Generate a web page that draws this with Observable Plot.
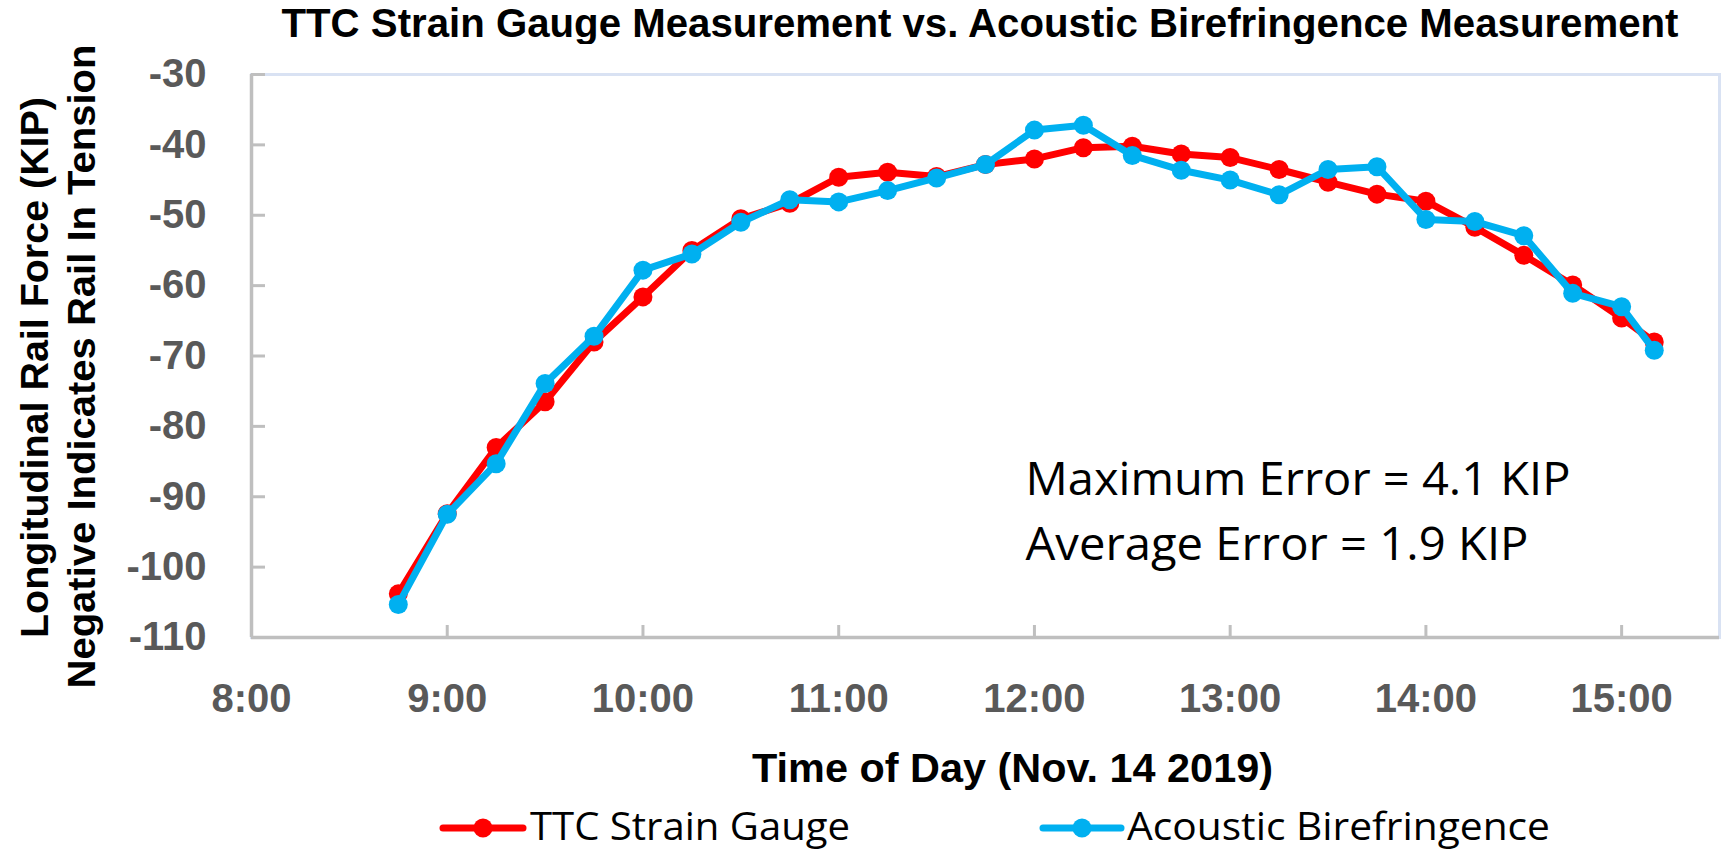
<!DOCTYPE html>
<html>
<head>
<meta charset="utf-8">
<script src="https://cdn.jsdelivr.net/npm/d3@7"></script>
<script src="https://cdn.jsdelivr.net/npm/@observablehq/plot@0.6"></script>
<style>
  html, body { margin: 0; padding: 0; background: #fff; }
  #wrap { position: relative; width: 1725px; height: 851px; overflow: hidden; background: #fff; }
  #title { position: absolute; left: 0; top: 0; overflow: visible; }
  #chart { position: absolute; left: 0; top: 44px; }
  #legend { position: absolute; left: 0; top: 794px; overflow: visible; }
</style>
</head>
<body>
<div id="wrap">
  <svg id="title" width="1725" height="44"></svg>
  <div id="chart"></div>
  <svg id="legend" width="1725" height="57"></svg>
</div>
<script>
// ---- data ----
const times = ["8:45","9:00","9:15","9:30","9:45","10:00","10:15","10:30","10:45","11:00","11:15","11:30","11:45",
               "12:00","12:15","12:30","12:45","13:00","13:15","13:30","13:45","14:00","14:15","14:30","14:45","15:00","15:10"];
const gaugeKip = [-103.8,-92.4,-83.0,-76.5,-68.0,-61.6,-55.0,-50.5,-48.3,-44.6,-43.9,-44.5,-42.8,
                  -42.0,-40.4,-40.2,-41.3,-41.8,-43.5,-45.3,-47.0,-48.0,-51.7,-55.7,-59.9,-64.6,-68.0];
const acousticKip = [-105.3,-92.5,-85.3,-73.9,-67.2,-57.8,-55.5,-51.0,-47.8,-48.1,-46.5,-44.7,-42.8,
                     -37.9,-37.2,-41.5,-43.6,-45.0,-47.1,-43.5,-43.1,-50.6,-50.9,-52.9,-61.1,-63.0,-69.2];
const seriesNames = ["TTC Strain Gauge", "Acoustic Birefringence"];
const seriesColors = ["#FF0000", "#00B0F0"];
const xTickHours = [8, 9, 10, 11, 12, 13, 14, 15];
const yTickValues = [-110, -100, -90, -80, -70, -60, -50, -40, -30];
const xDomain = [8, 15.5];
const yDomain = [-110, -30];
const chartTitle = "TTC Strain Gauge Measurement vs. Acoustic Birefringence Measurement";
const xTitle = "Time of Day (Nov. 14 2019)";
const yTitleLines = ["Longitudinal Rail Force (KIP)", "Negative Indicates Rail In Tension"];
const noteLines = ["Maximum Error = 4.1 KIP", "Average Error = 1.9 KIP"];

// ---- build ----
const toHours = t => { const [h, m] = t.split(":").map(Number); return h + m / 60; };
const seriesValues = [gaugeKip, acousticKip];
const rows = seriesNames.map((name, i) =>
  times.map((t, j) => ({series: name, hour: toHours(t), kip: seriesValues[i][j]})));

const seriesMarks = rows.flatMap((data, i) => [
  Plot.line(data, {x: "hour", y: "kip", stroke: seriesColors[i], strokeWidth: 7, strokeLinejoin: "round", strokeLinecap: "round"}),
  Plot.dot(data, {x: "hour", y: "kip", fill: seriesColors[i], r: 9.5})
]);

const sans = "Liberation Sans, Arial, sans-serif";
const soft = "Open Sans, Liberation Sans, sans-serif";

const chart = Plot.plot({
  width: 1725,
  height: 760,
  marginLeft: 251,
  marginRight: 6,
  marginTop: 30,
  marginBottom: 167,
  x: {domain: xDomain},
  y: {domain: yDomain},
  style: {fontFamily: sans, fontSize: "40px", fontWeight: "bold", color: "#595959", background: "#fff", overflow: "visible"},
  marks: [
    Plot.frame({stroke: "#D9E2F3", strokeWidth: 3}),
    Plot.ruleX([xDomain[0]], {stroke: "#BFBFBF", strokeWidth: 3.5}),
    Plot.ruleY([yDomain[0]], {stroke: "#BFBFBF", strokeWidth: 3.5}),
    Plot.axisY(yTickValues, {tickSize: -14, tickPadding: 59, stroke: "#BFBFBF", strokeWidth: 3, fill: "#595959",
      tickFormat: d => String(d), label: null, fontSize: 40}),
    Plot.axisX(xTickHours, {tickSize: -12, tickPadding: 58, stroke: "#BFBFBF", strokeWidth: 3, fill: "#595959",
      tickFormat: d => `${d}:00`, label: null, fontSize: 40}),
    ...seriesMarks,
    Plot.text([yTitleLines[0]], {text: d => d, frameAnchor: "left", rotate: -90, dx: -216, dy: 11.5,
      textAnchor: "middle", lineAnchor: "middle", fontSize: 39.5, fontWeight: "bold", fill: "#000", fontFamily: sans}),
    Plot.text([yTitleLines[1]], {text: d => d, frameAnchor: "left", rotate: -90, dx: -169, dy: 10.5,
      textAnchor: "middle", lineAnchor: "middle", fontSize: 39.5, fontWeight: "bold", fill: "#000", fontFamily: sans}),
    Plot.text([xTitle], {text: d => d, frameAnchor: "bottom", dx: 27, dy: 131,
      textAnchor: "middle", lineAnchor: "middle", fontSize: 41, fontWeight: "bold", fill: "#000", fontFamily: sans}),
    Plot.text([noteLines[0]], {text: d => d, frameAnchor: "top-left", dx: 774, dy: 389,
      textAnchor: "start", lineAnchor: "top", fontSize: 45, fontWeight: "normal", fill: "#000", fontFamily: soft}),
    Plot.text([noteLines[1]], {text: d => d, frameAnchor: "top-left", dx: 774, dy: 454,
      textAnchor: "start", lineAnchor: "top", fontSize: 45, fontWeight: "normal", fill: "#000", fontFamily: soft})
  ]
});
document.getElementById("chart").appendChild(chart);

// fit text lengths
const fitText = (root, content, len) => d3.select(root).selectAll("text")
  .filter(function() { return this.textContent === content; })
  .attr("textLength", len).attr("lengthAdjust", "spacingAndGlyphs");
fitText(chart, noteLines[0], 545);
fitText(chart, noteLines[1], 503);
fitText(chart, xTitle, 521);
fitText(chart, yTitleLines[0], 541);
fitText(chart, yTitleLines[1], 644);

// title
d3.select("#title").append("text")
  .attr("x", 980).attr("y", 37)
  .attr("text-anchor", "middle")
  .attr("font-family", sans).attr("font-weight", "bold").attr("font-size", 40)
  .attr("textLength", 1397).attr("lengthAdjust", "spacingAndGlyphs")
  .text(chartTitle);

// legend
const legendItems = [
  {x0: 443, x1: 523, tx: 530, len: 320},
  {x0: 1043, x1: 1121, tx: 1127, len: 423}
];
const lg = d3.select("#legend");
seriesNames.forEach((name, i) => {
  const it = legendItems[i];
  lg.append("line").attr("x1", it.x0).attr("x2", it.x1).attr("y1", 34).attr("y2", 34)
    .attr("stroke", seriesColors[i]).attr("stroke-width", 7).attr("stroke-linecap", "round");
  lg.append("circle").attr("cx", (it.x0 + it.x1) / 2).attr("cy", 34).attr("r", 9.5).attr("fill", seriesColors[i]);
  lg.append("text").attr("x", it.tx).attr("y", 46)
    .attr("font-family", soft).attr("font-size", 38).attr("fill", "#000")
    .attr("textLength", it.len).attr("lengthAdjust", "spacingAndGlyphs")
    .text(name);
});
</script>
</body>
</html>
